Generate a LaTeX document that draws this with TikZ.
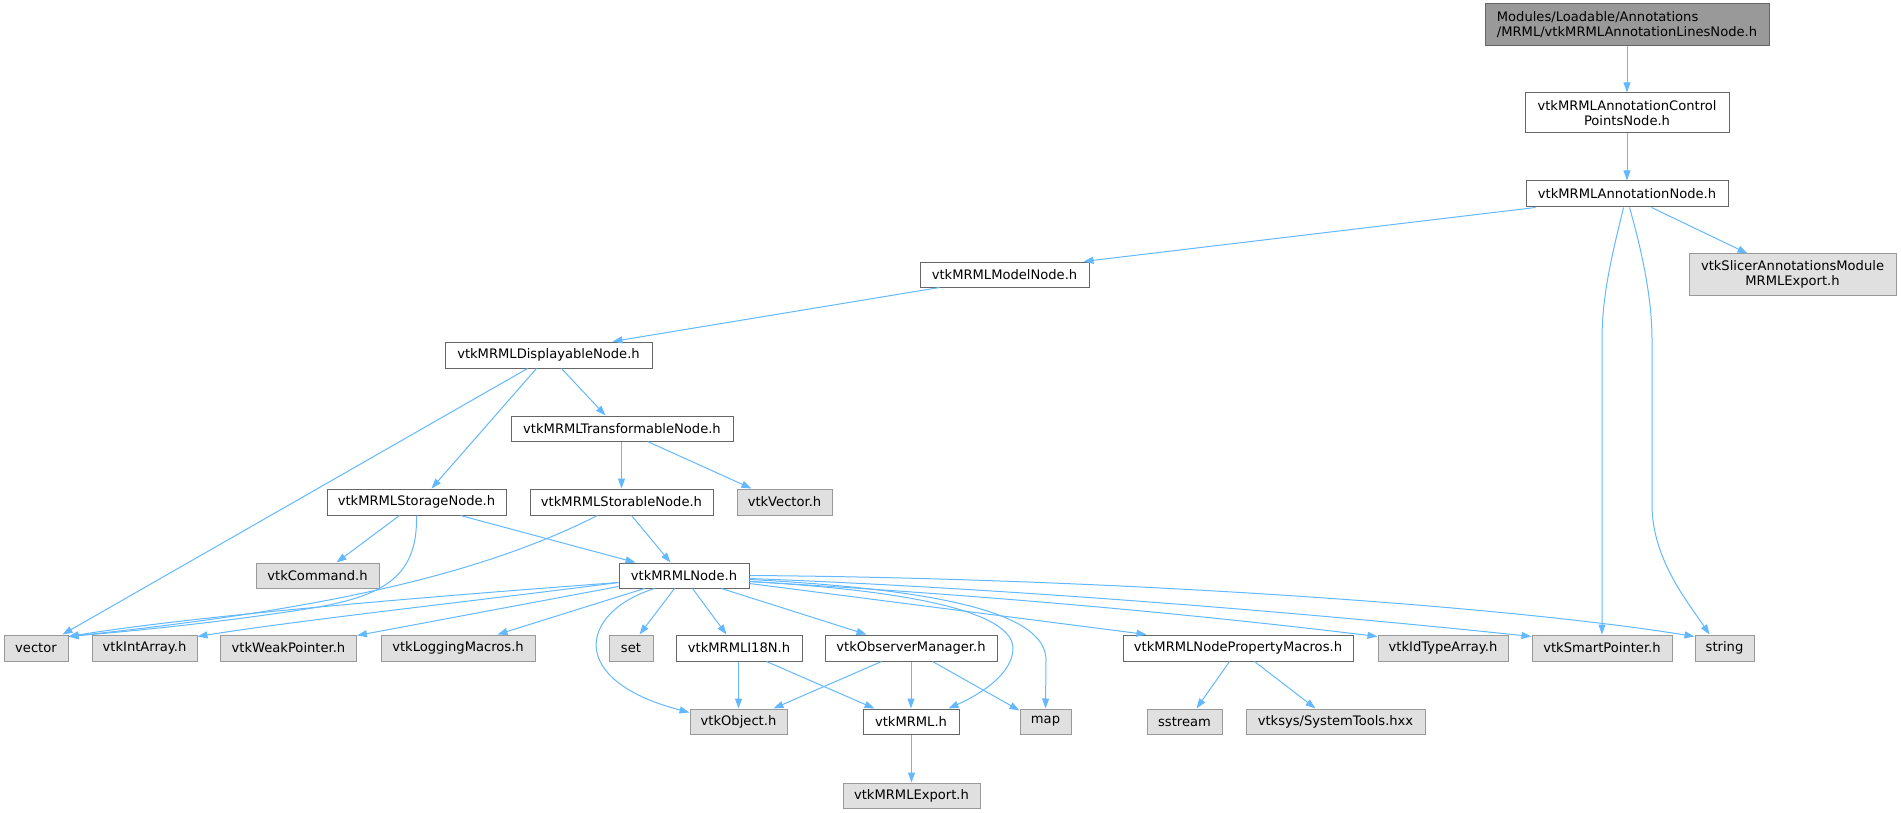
\documentclass[tikz,border=0pt]{standalone}
\usepackage{fontspec}
\newfontfamily\dvs{DejaVu Sans}
\usetikzlibrary{arrows.meta,calc}
\definecolor{edgec}{HTML}{63B8FF}
\definecolor{gA}{HTML}{666666}
\definecolor{gB}{HTML}{999999}
\definecolor{gC}{HTML}{E0E0E0}
\tikzset{
  boxw/.style={draw=gA, fill=white, line width=1pt, inner sep=0pt, align=center,
    font=\dvs\fontsize{13.1}{15}\selectfont, text=black, minimum height=25pt},
  boxg/.style={boxw, draw=gB, fill=gC},
  boxr/.style={boxw, fill=gB},
  dep/.style={draw=edgec, line width=1pt, -{Triangle[length=10pt,width=7pt]}},
}
\begin{document}
\begin{tikzpicture}[x=1pt,y=-1pt]
\useasboundingbox (0,0) rectangle (1901,813);
% nodes
\node[boxr, minimum width=284pt, minimum height=42pt, align=left] (root) at (1627,25) {Modules/Loadable/Annotations\\/MRML/vtkMRMLAnnotationLinesNode.h};
\node[boxw, minimum width=204pt, minimum height=40pt] (cpn) at (1627,113) {vtkMRMLAnnotationControl\\PointsNode.h};
\node[boxw, minimum width=202pt, minimum height=26pt] (ann) at (1627,194) {vtkMRMLAnnotationNode.h};
\node[boxg, minimum width=207pt, minimum height=41pt] (slicer) at (1792.5,274.5) {vtkSlicerAnnotationsModule\\MRMLExport.h};
\node[boxw, minimum width=169pt] (model) at (1004.5,274.5) {vtkMRMLModelNode.h};
\node[boxw, minimum width=207pt, minimum height=26pt] (disp) at (548.5,355) {vtkMRMLDisplayableNode.h};
\node[boxw, minimum width=222pt] (trans) at (622,428.5) {vtkMRMLTransformableNode.h};
\node[boxw, minimum width=179pt, minimum height=26pt] (storage) at (416.5,502) {vtkMRMLStorageNode.h};
\node[boxw, minimum width=183pt, minimum height=26pt] (storable) at (621.5,502) {vtkMRMLStorableNode.h};
\node[boxg, minimum width=95pt, minimum height=26pt] (vvec) at (784.5,502) {vtkVector.h};
\node[boxg, minimum width=123pt] (cmd) at (317.5,575.5) {vtkCommand.h};
\node[boxw, minimum width=130pt] (mnode) at (684,575.5) {vtkMRMLNode.h};
\node[boxg, minimum width=64pt, minimum height=26pt] (vector) at (36,648) {vector};
\node[boxg, minimum width=105pt, minimum height=26pt] (intarr) at (144.5,648) {vtkIntArray.h};
\node[boxg, minimum width=136pt, minimum height=26pt] (weak) at (288.5,648) {vtkWeakPointer.h};
\node[boxg, minimum width=154pt, minimum height=26pt] (logm) at (458,648) {vtkLoggingMacros.h};
\node[boxg, minimum width=44pt, minimum height=26pt] (set) at (631,648) {set};
\node[boxw, minimum width=126pt, minimum height=26pt] (i18n) at (739,648) {vtkMRMLI18N.h};
\node[boxw, minimum width=172pt, minimum height=26pt] (obs) at (911,648) {vtkObserverManager.h};
\node[boxw, minimum width=230pt, minimum height=26pt] (propm) at (1238,648) {vtkMRMLNodePropertyMacros.h};
\node[boxg, minimum width=130pt, minimum height=26pt] (idtype) at (1443,648) {vtkIdTypeArray.h};
\node[boxg, minimum width=140pt, minimum height=26pt] (smart) at (1602,648) {vtkSmartPointer.h};
\node[boxg, minimum width=59pt, minimum height=26pt] (string) at (1724.5,648) {string};
\node[boxg, minimum width=97pt] (vobj) at (738.5,721.5) {vtkObject.h};
\node[boxw, minimum width=96pt] (mrml) at (911,721.5) {vtkMRML.h};
\node[boxg, minimum width=51pt] (map) at (1045.5,721.5) {map};
\node[boxg, minimum width=75pt] (sstream) at (1184.5,721.5) {sstream};
\node[boxg, minimum width=179pt] (vtksys) at (1335.5,721.5) {vtksys/SystemTools.hxx};
\node[boxg, minimum width=137pt] (export) at (911.5,795.5) {vtkMRMLExport.h};
% edges
\draw[dep] (root.south) -- (cpn.north);
\draw[dep] (cpn.south) -- (ann.north);
\draw[dep] ($(ann.south west)+(10,0)$) -- ($(model.north east)+(-6,0)$);
\draw[dep] ($(ann.south west)+(126,0)$) -- ($(slicer.north)+(-45,0)$);
\draw[dep] ($(ann.south west)+(98,0)$) .. controls (1612,255) and (1602,295) .. (1602,340) -- (smart.north);
\draw[dep] ($(ann.south west)+(104,0)$) .. controls (1643,255) and (1652,300) .. (1652,340) -- (1652,505) .. controls (1652,560) and (1690,605) .. ($(string.north west)+(15,0)$);
\draw[dep] ($(model.south west)+(20,0)$) -- ($(disp.north west)+(168,0)$);
\draw[dep] ($(disp.south west)+(83,0)$) -- ($(vector.north east)+(-6,0)$);
\draw[dep] ($(disp.south west)+(92,0)$) -- ($(storage.north west)+(105,0)$);
\draw[dep] ($(disp.south west)+(117,0)$) -- ($(trans.north west)+(95,0)$);
\draw[dep] (storable.north |- trans.south) -- (storable.north);
\draw[dep] ($(trans.south west)+(137,0)$) -- ($(vvec.north west)+(15,0)$);
\draw[dep] ($(storage.south west)+(73,0)$) -- ($(cmd.north west)+(81,0)$);
\draw[dep] ($(storage.south west)+(90,0)$) .. controls (418,580) and (380,598) .. (300,610) .. controls (200,625) and (120,632) .. ($(vector.north east)+(0,2)$);
\draw[dep] ($(storage.south west)+(134,0)$) -- ($(mnode.north west)+(17,0)$);
\draw[dep] ($(storable.south west)+(68,0)$) .. controls (470,580) and (300,612) .. ($(vector.north east)+(0,2)$);
\draw[dep] ($(storable.south west)+(102,0)$) -- ($(mnode.north west)+(52,0)$);
% from vtkMRMLNode.h
\draw[dep] ($(mnode.north west)+(0,20)$) .. controls (450,595) and (200,615) .. ($(vector.north east)+(0,2)$);
\draw[dep] ($(mnode.north west)+(0,20)$) .. controls (500,598) and (300,620) .. ($(intarr.north east)+(0,2)$);
\draw[dep] ($(mnode.north west)+(0,24)$) -- ($(weak.north east)+(0,1)$);
\draw[dep] ($(mnode.south west)+(26,0)$) -- ($(logm.north east)+(-38,0)$);
\draw[dep] ($(mnode.south west)+(56,0)$) -- ($(set.north west)+(31,0)$);
\draw[dep] ($(mnode.south west)+(36,0)$) .. controls (580,612) and (565,680) .. ($(vobj.north west)+(0,4)$);
\draw[dep] ($(mnode.south west)+(74,0)$) -- ($(i18n.north west)+(51,0)$);
\draw[dep] ($(mnode.south west)+(103,0)$) -- ($(obs.north west)+(42,0)$);
\draw[dep] ($(mnode.north east)+(0,19)$) .. controls (900,590) and (1012,610) .. (1013,648) .. controls (1013,672) and (985,692) .. ($(mrml.north east)+(-11,0)$);
\draw[dep] ($(mnode.north east)+(0,17)$) .. controls (950,590) and (1046,615) .. (1046,660) -- (map.north);
\draw[dep] ($(mnode.north east)+(0,21)$) -- ($(propm.north west)+(24,0)$);
\draw[dep] ($(mnode.north east)+(0,19)$) .. controls (1000,596) and (1200,615) .. ($(idtype.north west)+(0,2)$);
\draw[dep] ($(mnode.north east)+(0,16)$) .. controls (1000,588) and (1300,612) .. ($(smart.north west)+(0,2)$);
\draw[dep] ($(mnode.north east)+(0,13)$) .. controls (1100,578) and (1500,605) .. ($(string.north west)+(0,2)$);
% lower rows
\draw[dep] (vobj.north |- i18n.south) -- (vobj.north);
\draw[dep] ($(i18n.south west)+(91,0)$) -- ($(mrml.north west)+(12,0)$);
\draw[dep] ($(obs.south west)+(57,0)$) -- ($(vobj.north east)+(-14,0)$);
\draw[dep] (mrml.north |- obs.south) -- (mrml.north);
\draw[dep] ($(obs.south west)+(108,0)$) -- ($(map.north west)+(0,2)$);
\draw[dep] (export.north |- mrml.south) -- (export.north);
\draw[dep] ($(propm.south west)+(107,0)$) -- ($(sstream.north west)+(50,0)$);
\draw[dep] ($(propm.south west)+(132,0)$) -- ($(vtksys.north west)+(70,0)$);
\end{tikzpicture}
\end{document}
